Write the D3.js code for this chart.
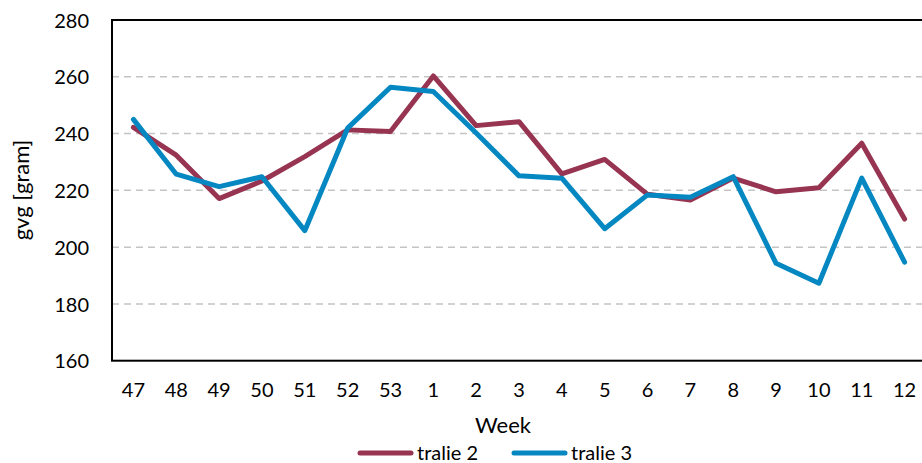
<!DOCTYPE html>
<html>
<head>
<meta charset="utf-8">
<script src="https://cdn.jsdelivr.net/npm/d3@7"></script>
<style>
  body { margin: 0; background: #fff; }
  text { font-family: Lato, "Open Sans", sans-serif; fill: #000; }
</style>
</head>
<body>
<div id="canvas"></div>
<script>
// week labels along the x axis
const weeks = ["47", "48", "49", "50", "51", "52", "53", "1", "2", "3", "4", "5", "6", "7", "8", "9", "10", "11", "12"];

// gvg values
const tralie2 = [242.2, 232.4, 217.1, 223.3, 231.9, 241.3, 240.7, 260.3, 242.8, 244.2, 225.8, 230.9, 218.6, 216.6, 224.3, 219.5, 220.9, 236.6, 209.9];
const tralie3 = [245.0, 225.7, 221.3, 224.8, 205.8, 241.9, 256.3, 254.8, 240.2, 225.1, 224.3, 206.5, 218.4, 217.6, 224.8, 194.3, 187.3, 224.3, 194.7];

const yTicks = [160, 180, 200, 220, 240, 260, 280];

const seriesNames = ["tralie 2", "tralie 3"];
const seriesColors = ["#963452", "#0588c1"];

const W = 922, H = 463;
const margin = {top: 20, left: 112};
const plotW = 814, plotH = 340.7;

const svg = d3.select("#canvas")
    .append("svg")
    .attr("width", W)
    .attr("height", H);

const g = svg.append("g")
    .attr("transform", "translate(" + margin.left + "," + margin.top + ")");

const xScale = d3.scaleBand()
    .domain(weeks)
    .range([0, plotW]);

const yScale = d3.scaleLinear()
    .domain([160, 280])
    .range([plotH, 0]);

// dashed grid lines
g.append("g")
    .selectAll("line")
    .data(yTicks.filter(t => t > 160 && t < 280))
    .enter()
    .append("line")
    .attr("x1", 0)
    .attr("x2", plotW)
    .attr("y1", d => yScale(d))
    .attr("y2", d => yScale(d))
    .style("stroke", "#c4c4c4")
    .style("stroke-width", 1.5)
    .style("stroke-dasharray", "7,5");

// frame around the plot
g.append("rect")
    .attr("x", 0)
    .attr("y", 0)
    .attr("width", plotW)
    .attr("height", plotH)
    .style("fill", "none")
    .style("stroke", "#000")
    .style("stroke-width", 2);

// y axis labels
const yAxis = g.append("g")
    .call(d3.axisLeft(yScale).tickValues(yTicks).tickSize(0).tickPadding(23));
yAxis.select(".domain").remove();
yAxis.selectAll("text")
    .style("font-family", "Lato, 'Open Sans', sans-serif")
    .style("font-size", "20px")
    .attr("dy", "0.36em");

// x axis labels
const xAxis = g.append("g")
    .attr("transform", "translate(0," + plotH + ")")
    .call(d3.axisBottom(xScale).tickSize(0).tickPadding(22));
xAxis.select(".domain").remove();
xAxis.selectAll("text")
    .style("font-family", "Lato, 'Open Sans', sans-serif")
    .style("font-size", "20px")
    .attr("dy", "0.71em");

// lines
const line = d3.line()
    .x((d, i) => xScale(weeks[i]) + xScale.bandwidth() / 2)
    .y(d => yScale(d));

[tralie2, tralie3].forEach((vals, k) => {
    g.append("path")
        .datum(vals)
        .attr("d", line)
        .style("fill", "none")
        .style("stroke", seriesColors[k])
        .style("stroke-width", 5)
        .style("stroke-linejoin", "round")
        .style("stroke-linecap", "round");
});

// axis titles
svg.append("text")
    .attr("text-anchor", "middle")
    .attr("x", 503)
    .attr("y", 433)
    .style("font-size", "22px")
    .text("Week");

svg.append("text")
    .attr("text-anchor", "middle")
    .attr("transform", "translate(29,190) rotate(-90)")
    .style("font-size", "22px")
    .text("gvg [gram]");

// legend
const legendX = [358, 512];
seriesNames.forEach((name, k) => {
    const lg = svg.append("g")
        .attr("transform", "translate(" + legendX[k] + ",453)");
    lg.append("line")
        .attr("x1", 2)
        .attr("x2", 53)
        .attr("y1", 0)
        .attr("y2", 0)
        .style("stroke", seriesColors[k])
        .style("stroke-width", 5)
        .style("stroke-linecap", "round");
    lg.append("text")
        .attr("x", 59)
        .attr("y", 7)
        .style("font-size", "20px")
        .text(name);
});
</script>
</body>
</html>
